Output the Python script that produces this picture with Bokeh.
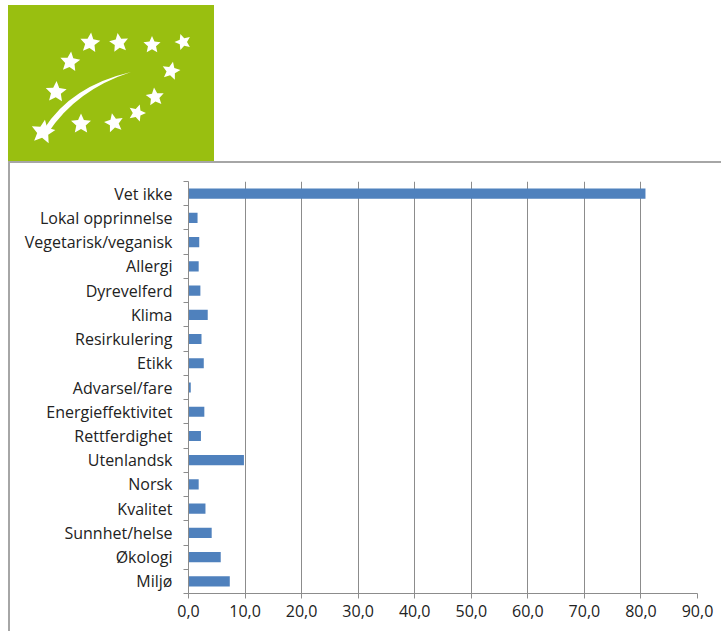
import math
from bokeh.plotting import figure
from bokeh.models import Range1d, FixedTicker, ColumnDataSource, Div
from bokeh.layouts import column
from bokeh.embed import file_html
from bokeh.resources import INLINE

# ---- data ----
categories = ["Vet ikke", "Lokal opprinnelse", "Vegetarisk/veganisk", "Allergi",
              "Dyrevelferd", "Klima", "Resirkulering", "Etikk", "Advarsel/fare",
              "Energieffektivitet", "Rettferdighet", "Utenlandsk", "Norsk",
              "Kvalitet", "Sunnhet/helse", "Økologi", "Miljø"]
values = [80.8, 1.6, 1.9, 1.8, 2.1, 3.4, 2.3, 2.7, 0.4, 2.8, 2.2, 9.8, 1.8,
          3.0, 4.1, 5.7, 7.3]
x_ticks = [0, 10, 20, 30, 40, 50, 60, 70, 80, 90]
x_tick_labels = ["0,0", "10,0", "20,0", "30,0", "40,0", "50,0", "60,0",
                 "70,0", "80,0", "90,0"]

# ---- logo decoration (EU organic leaf), drawn as inline SVG ----
GREEN = "#99BF10"
star_x = [90, 119, 152, 183, 70, 171, 56, 155, 137, 81, 114, 43]
star_y = [43, 43, 45, 42, 62, 71, 92, 97, 113, 124, 123, 132]
star_r = [10.5, 10, 9, 8.5, 10.5, 9.5, 11, 9.5, 9, 10.5, 10, 12.5]
star_rot = [6, -8, 0, -18, 6, 12, 3, -6, 18, 0, -12, 9]


def star_points(cx, cy, r, rot):
    pts = []
    for k in range(10):
        rr = r if k % 2 == 0 else r * 0.47
        a = math.radians(-90 + rot + 36 * k)
        pts.append(f"{cx + rr * math.cos(a):.2f},{cy + rr * math.sin(a):.2f}")
    return " ".join(pts)


stars_svg = "".join(
    f'<polygon points="{star_points(x, y, r, a)}" fill="white"/>'
    for x, y, r, a in zip(star_x, star_y, star_r, star_rot))
leaf_svg = ('<path d="M 44 129 Q 71 86 131 72 Q 76 90 48 133 Z" fill="white"/>')
logo_html = (
    '<svg xmlns="http://www.w3.org/2000/svg" width="214" height="161" '
    'style="display:block">'
    f'<rect x="8" y="5" width="206" height="156" fill="{GREEN}"/>'
    f'{leaf_svg}{stars_svg}</svg>')
logo = Div(text=logo_html, width=214, height=161, margin=0)

# ---- chart ----
n = len(categories)
pos = list(range(n))
src = ColumnDataSource(dict(y=pos, v=values, cat=categories))

GRAY = "#8C8C8C"
TEXT = "#222222"
FONT = "Open Sans"

p = figure(width=713, height=470, x_range=Range1d(0, 90),
           y_range=Range1d(n - 0.5, -0.5),
           toolbar_location=None, output_backend="svg",
           min_border_left=178, min_border_right=26,
           min_border_top=18, min_border_bottom=40,
           margin=(0, 0, 0, 8),
           styles={"border-left": "2px solid #A6A6A6", "border-top": "2px solid #A6A6A6"})
p.outline_line_color = None

p.hbar(y="y", right="v", left=0, height=0.42, source=src,
       fill_color="#4F81BD", line_color=None)

xt = FixedTicker(ticks=x_ticks, minor_ticks=[])
p.xaxis.ticker = xt
p.xaxis.major_label_overrides = {t: l for t, l in zip(x_ticks, x_tick_labels)}
p.xaxis.major_tick_out = 5
p.xaxis.major_tick_in = 0
p.xaxis.minor_tick_out = 0
p.xaxis.major_label_standoff = 6
p.xaxis.axis_line_color = GRAY
p.xaxis.major_tick_line_color = GRAY
p.xaxis.major_label_text_font = FONT
p.xaxis.major_label_text_font_size = "16px"
p.xaxis.major_label_text_color = TEXT

yt = FixedTicker(ticks=pos, minor_ticks=[i - 0.5 for i in range(n + 1)])
p.yaxis.ticker = yt
p.yaxis.major_label_overrides = {i: c for i, c in zip(pos, categories)}
p.yaxis.major_tick_out = 0
p.yaxis.major_tick_in = 0
p.yaxis.minor_tick_out = 5
p.yaxis.minor_tick_in = 0
p.yaxis.minor_tick_line_color = GRAY
p.yaxis.major_label_standoff = 11
p.yaxis.axis_line_color = GRAY
p.yaxis.major_label_text_font = FONT
p.yaxis.major_label_text_font_size = "16px"
p.yaxis.major_label_text_color = TEXT

p.xgrid.ticker = xt
p.xgrid.grid_line_color = GRAY
p.ygrid.grid_line_color = None

layout = column(logo, p, spacing=0)
open("out.html", "w").write(file_html(layout, INLINE))
